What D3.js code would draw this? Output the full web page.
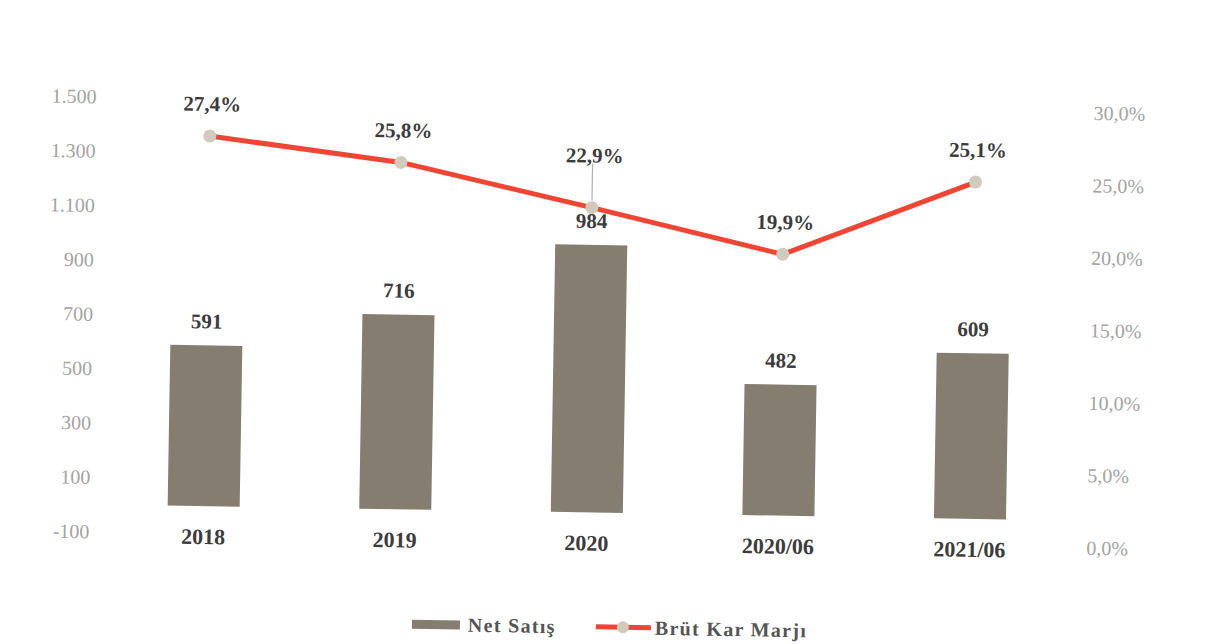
<!DOCTYPE html>
<html>
<head>
<meta charset="utf-8">
<script src="https://cdn.jsdelivr.net/npm/d3@7"></script>
<style>
  html, body { margin: 0; padding: 0; background: #ffffff; }
  svg { display: block; }
  text { font-family: "Liberation Serif", "DejaVu Serif", serif; }
</style>
</head>
<body>
<svg id="chart" width="1221" height="644"></svg>
<script>
// Net sales (bars, left axis) and gross margin % (line, right axis)
const categories = ["2018", "2019", "2020", "2020/06", "2021/06"];
const netSales = [591, 716, 984, 482, 609];
const grossMargin = [27.4, 25.8, 22.9, 19.9, 25.1];
const leftTicks = [-100, 100, 300, 500, 700, 900, 1100, 1300, 1500];
const rightTicks = [0, 5, 10, 15, 20, 25, 30];
const seriesNames = ["Net Satış", "Brüt Kar Marjı"];

const W = 1221, H = 644;
const svg = d3.select("#chart");

// whole page sits at a slight tilt
const g = svg.append("g").attr("transform", "rotate(0.95, 610, 320)");

const x = d3.scaleBand().domain(categories).range([111, 1069]).paddingInner(0.624).paddingOuter(0.312);
const yL = d3.scaleLinear().domain([-100, 1500]).range([540, 105]);
const yR = d3.scaleLinear().domain([0, 30]).range([540, 105]);

// Turkish number style: dot thousands separator, comma decimal, plain hyphen minus
const trFmt = v => (v < 0 ? "-" : "") + d3.format(",")(Math.abs(v)).replace(/,/g, ".");
const pctFmt = v => d3.format(".1f")(v).replace(".", ",") + "%";

// left axis
const axL = g.append("g").attr("transform", "translate(93,0)")
  .call(d3.axisLeft(yL).tickValues(leftTicks).tickFormat(trFmt).tickSize(0).tickPadding(0));
axL.select(".domain").remove();
axL.selectAll("text").attr("font-size", 20).attr("fill", "#a3a3a3")
  .style("font-family", "'Liberation Serif', serif");

// right axis
const axR = g.append("g").attr("transform", "translate(1090,0)")
  .call(d3.axisRight(yR).tickValues(rightTicks).tickFormat(v => pctFmt(v)).tickSize(0).tickPadding(0));
axR.select(".domain").remove();
axR.selectAll("text").attr("font-size", 20).attr("fill", "#a3a3a3")
  .style("font-family", "'Liberation Serif', serif");

// bars
const barColor = "#857e70";
g.selectAll("rect.bar").data(netSales).join("rect")
  .attr("class", "bar")
  .attr("x", (d, i) => x(categories[i]))
  .attr("width", x.bandwidth())
  .attr("y", d => yL(d))
  .attr("height", d => yL(0) - yL(d))
  .attr("fill", barColor);

// bar value labels
g.selectAll("text.barlbl").data(netSales).join("text")
  .attr("class", "barlbl")
  .attr("x", (d, i) => x(categories[i]) + x.bandwidth() / 2)
  .attr("y", d => yL(d) - 17)
  .attr("text-anchor", "middle")
  .attr("font-size", 21).attr("font-weight", "bold").attr("fill", "#3c3c3c")
  .text(d => d);

// category labels
g.selectAll("text.cat").data(categories).join("text")
  .attr("class", "cat")
  .attr("x", d => x(d) + x.bandwidth() / 2)
  .attr("y", yL(0) + 38)
  .attr("text-anchor", "middle")
  .attr("font-size", 22).attr("font-weight", "bold").attr("fill", "#3c3c3c")
  .text(d => d);

// margin line
const lineColor = "#ef4535";
const cx = i => x(categories[i]) + x.bandwidth() / 2;
g.append("path")
  .datum(grossMargin)
  .attr("d", d3.line().x((d, i) => cx(i)).y(d => yR(d)))
  .attr("fill", "none").attr("stroke", lineColor).attr("stroke-width", 5)
  .attr("stroke-linejoin", "round");

g.selectAll("circle.pt").data(grossMargin).join("circle")
  .attr("class", "pt")
  .attr("cx", (d, i) => cx(i)).attr("cy", d => yR(d)).attr("r", 6.5)
  .attr("fill", "#d0cbbc");

// margin labels (2020 label is lifted with a leader line)
const lift = [0, 0, 20, 0, 0];
g.selectAll("line.leader").data(grossMargin.map((d, i) => [d, i]).filter(p => lift[p[1]] > 0)).join("line")
  .attr("class", "leader")
  .attr("x1", p => cx(p[1])).attr("x2", p => cx(p[1]))
  .attr("y1", p => yR(p[0]) - 7).attr("y2", p => yR(p[0]) - 30 - lift[p[1]] + 6)
  .attr("stroke", "#b0b0b0").attr("stroke-width", 1.2);

g.selectAll("text.pctlbl").data(grossMargin).join("text")
  .attr("class", "pctlbl")
  .attr("x", (d, i) => cx(i) + 2)
  .attr("y", (d, i) => yR(d) - 25 - lift[i])
  .attr("text-anchor", "middle")
  .attr("font-size", 21).attr("font-weight", "bold").attr("fill", "#3c3c3c")
  .text(d => pctFmt(d));

// legend
const leg = g.append("g").attr("transform", "translate(0,627)");
leg.append("rect").attr("x", 417).attr("y", -4).attr("width", 48).attr("height", 9).attr("fill", barColor);
leg.append("text").attr("x", 473).attr("y", 7).attr("font-size", 20).attr("font-weight", "bold")
  .attr("letter-spacing", 1.3).attr("fill", "#555").text(seriesNames[0]);
leg.append("line").attr("x1", 601).attr("x2", 656).attr("y1", 0).attr("y2", 0)
  .attr("stroke", lineColor).attr("stroke-width", 5);
leg.append("circle").attr("cx", 628).attr("cy", 0).attr("r", 6).attr("fill", "#d0cbbc");
leg.append("text").attr("x", 660).attr("y", 7).attr("font-size", 20).attr("font-weight", "bold")
  .attr("letter-spacing", 1.3).attr("fill", "#555").text(seriesNames[1]);
</script>
</body>
</html>
